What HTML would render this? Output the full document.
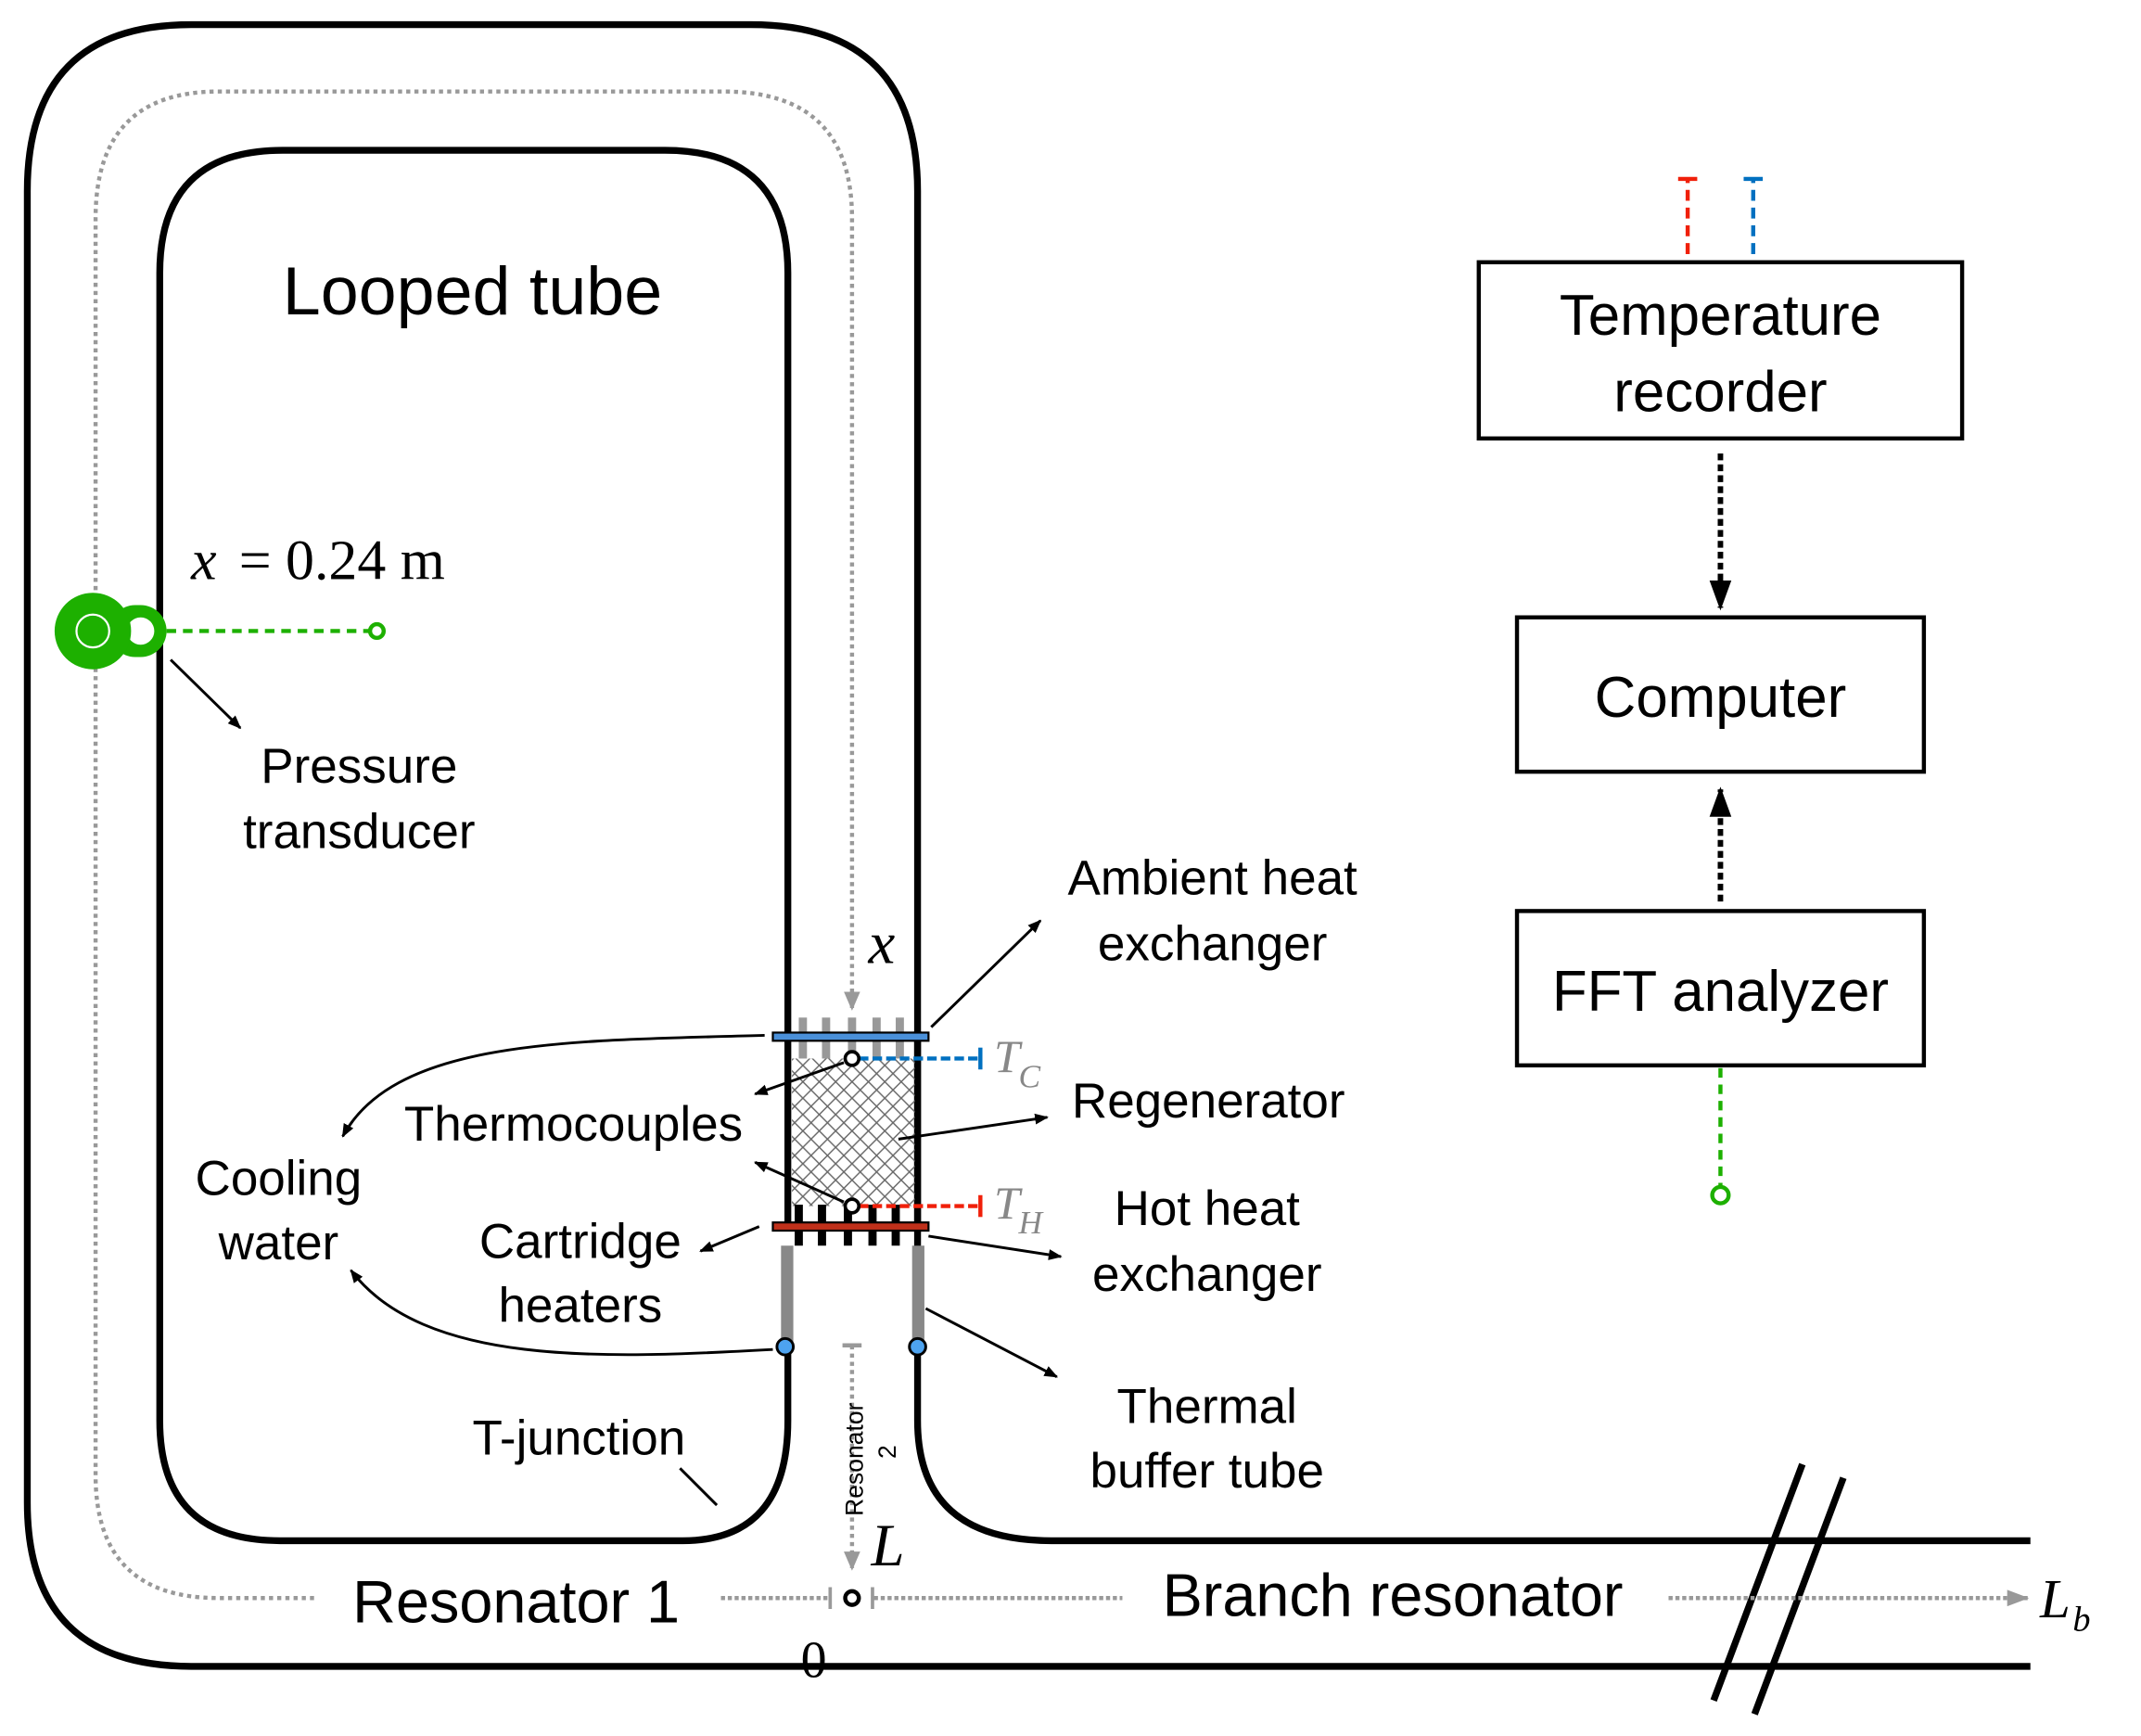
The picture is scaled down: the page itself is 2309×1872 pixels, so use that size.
<!DOCTYPE html>
<html><head><meta charset="utf-8"><style>
html,body{margin:0;padding:0;background:#fff}
svg{display:block}
text{font-family:"Liberation Sans",sans-serif;fill:#000}
.s{font-family:"Liberation Serif",serif;font-style:italic}
.r{font-family:"Liberation Serif",serif}
</style></head><body>
<svg width="2309" height="1872" viewBox="0 0 1568 1271" preserveAspectRatio="none" xmlns="http://www.w3.org/2000/svg">
<defs>
<marker id="a" markerWidth="10" markerHeight="10" refX="9" refY="5" orient="auto" markerUnits="userSpaceOnUse"><path d="M0,1 L10,5 L0,9 z" fill="#000"/></marker>
<marker id="g" markerWidth="14" markerHeight="14" refX="12" refY="7" orient="auto" markerUnits="userSpaceOnUse"><path d="M0,1 L14,7 L0,13 z" fill="#999"/></marker>
<marker id="b" markerWidth="22" markerHeight="22" refX="20" refY="11" orient="auto" markerUnits="userSpaceOnUse"><path d="M0,3 L22,11 L0,19 z" fill="#000"/></marker>
<pattern id="h" width="12" height="12" patternUnits="userSpaceOnUse"><path d="M0,0 L12,12 M12,0 L0,12" stroke="#666" stroke-width="1"/></pattern>
</defs>
<path d="M672,985 L672,140 Q672,18 550,18 L140,18 Q20,18 20,140 L20,1100 Q20,1220 140,1220 L1487,1220" fill="none" stroke="#000" stroke-width="5"/>
<path d="M577,755 L577,200 Q577,110 487,110 L207,110 Q117,110 117,200 L117,1040 Q117,1128 205,1128 L500,1128 Q577,1128 577,1040 L577,985" fill="none" stroke="#000" stroke-width="5"/>
<path d="M672,985 L672,1040 Q672,1128 770,1128 L1487,1128" fill="none" stroke="#000" stroke-width="5"/>
<path d="M577,755 L577,900 M672,755 L672,900" stroke="#000" stroke-width="5"/>
<path d="M230,1170 L160,1170 Q70,1170 70,1080 L70,160 Q70,67 160,67 L530,67 Q624,67 624,160 L624,738" fill="none" stroke="#999" stroke-width="3" stroke-dasharray="3,3" marker-end="url(#g)"/>
<path d="M1255,1245 L1320,1072 M1285,1255 L1350,1082" stroke="#000" stroke-width="5"/>
<g fill="#999"><rect x="585" y="745" width="6" height="30"/><rect x="602" y="745" width="6" height="30"/><rect x="621" y="745" width="6" height="30"/><rect x="639" y="745" width="6" height="30"/><rect x="656" y="745" width="6" height="30"/></g>
<rect x="580" y="775" width="90" height="108" fill="url(#h)"/>
<rect x="566" y="756" width="114" height="6" fill="#4a90d9" stroke="#000" stroke-width="1.5"/>
<g fill="#000"><rect x="582" y="882" width="6" height="30"/><rect x="599" y="882" width="6" height="30"/><rect x="618" y="882" width="6" height="30"/><rect x="636" y="882" width="6" height="30"/><rect x="653" y="882" width="6" height="30"/></g>
<rect x="566" y="895" width="114" height="6" fill="#c0301a" stroke="#000" stroke-width="1.5"/>
<rect x="572" y="912" width="9" height="74" fill="#888"/><rect x="668" y="912" width="9" height="74" fill="#888"/>
<circle cx="575" cy="986" r="6" fill="#4da3f0" stroke="#000" stroke-width="2"/>
<circle cx="672" cy="986" r="6" fill="#4da3f0" stroke="#000" stroke-width="2"/>
<path d="M629,775 L718,775" stroke="#0070c0" stroke-width="3" stroke-dasharray="7,3"/><path d="M718,767 V783" stroke="#0070c0" stroke-width="3"/>
<path d="M629,883 L718,883" stroke="#f0200a" stroke-width="3" stroke-dasharray="7,3"/><path d="M718,875 V891" stroke="#f0200a" stroke-width="3"/>
<circle cx="624" cy="775" r="5" fill="#fff" stroke="#000" stroke-width="2.5"/>
<circle cx="624" cy="883" r="5" fill="#fff" stroke="#000" stroke-width="2.5"/>
<rect x="80" y="443" width="42" height="38" rx="19" fill="#1db000"/>
<rect x="93" y="452" width="20" height="20" rx="10" fill="#fff"/>
<circle cx="68" cy="462" r="28" fill="#1db000"/>
<circle cx="68" cy="462" r="12" fill="none" stroke="#fff" stroke-width="1.5"/>
<path d="M122,462 L270,462" stroke="#1db000" stroke-width="3" stroke-dasharray="7,5"/>
<circle cx="276" cy="462" r="5" fill="#fff" stroke="#1db000" stroke-width="3"/>
<path d="M125,483 L176,533" stroke="#000" stroke-width="2" marker-end="url(#a)"/>
<path d="M682,752 L762,674" stroke="#000" stroke-width="2" marker-end="url(#a)"/>
<path d="M658,834 L767,818" stroke="#000" stroke-width="2" marker-end="url(#a)"/>
<path d="M680,905 L777,920" stroke="#000" stroke-width="2" marker-end="url(#a)"/>
<path d="M678,958 L774,1008" stroke="#000" stroke-width="2" marker-end="url(#a)"/>
<path d="M618,778 L553,801" stroke="#000" stroke-width="2" marker-end="url(#a)"/>
<path d="M618,880 L553,851" stroke="#000" stroke-width="2" marker-end="url(#a)"/>
<path d="M556,898 L513,916" stroke="#000" stroke-width="2" marker-end="url(#a)"/>
<path d="M560,758 C420,762 290,760 251,832" fill="none" stroke="#000" stroke-width="2" marker-end="url(#a)"/>
<path d="M566,988 C440,995 310,1000 257,930" fill="none" stroke="#000" stroke-width="2" marker-end="url(#a)"/>
<path d="M498,1075 L525,1102" stroke="#000" stroke-width="2"/>
<path d="M624,985 L624,1148" stroke="#999" stroke-width="3" stroke-dasharray="3,3" marker-end="url(#g)"/>
<path d="M617,985 H631" stroke="#999" stroke-width="3"/>
<path d="M528,1170 L606,1170 M640,1170 L822,1170 M1222,1170 L1486,1170" stroke="#999" stroke-width="3" stroke-dasharray="3,2"/>
<path d="M1470,1164 L1486,1170 L1470,1176 z" fill="#999"/>
<path d="M608,1162 V1178 M639,1162 V1178" stroke="#999" stroke-width="2.5"/>
<circle cx="624" cy="1170" r="5" fill="#fff" stroke="#000" stroke-width="3"/>
<text transform="translate(632,1110) rotate(-90)" font-size="18">Resonator</text>
<text transform="translate(656,1068) rotate(-90)" font-size="18">2</text>
<rect x="1083" y="192" width="354" height="129" fill="#fff" stroke="#000" stroke-width="3"/>
<rect x="1111" y="452" width="298" height="113" fill="#fff" stroke="#000" stroke-width="3"/>
<rect x="1111" y="667" width="298" height="113" fill="#fff" stroke="#000" stroke-width="3"/>
<path d="M1236,186 V132" stroke="#f0200a" stroke-width="3" stroke-dasharray="8,5"/>
<path d="M1284,186 V132" stroke="#0070c0" stroke-width="3" stroke-dasharray="8,5"/>
<path d="M1229,131 H1243" stroke="#f0200a" stroke-width="3"/>
<path d="M1277,131 H1291" stroke="#0070c0" stroke-width="3"/>
<path d="M1260,332 L1260,445" stroke="#000" stroke-width="4" stroke-dasharray="5,3" marker-end="url(#b)"/>
<path d="M1260,660 L1260,578" stroke="#000" stroke-width="4" stroke-dasharray="5,3" marker-end="url(#b)"/>
<path d="M1260,782 L1260,868" stroke="#1db000" stroke-width="3" stroke-dasharray="7,5"/>
<circle cx="1260" cy="875" r="6" fill="#fff" stroke="#1db000" stroke-width="3"/>
<text x="346" y="230" font-size="50" text-anchor="middle">Looped tube</text>
<text x="140" y="424" font-size="42" class="s">x</text>
<text x="175" y="424" font-size="42" class="r">= 0.24 m</text>
<text x="263" y="573" font-size="36" text-anchor="middle">Pressure</text>
<text x="263" y="621" font-size="36" text-anchor="middle">transducer</text>
<text x="888" y="655" font-size="36" text-anchor="middle">Ambient heat</text>
<text x="888" y="703" font-size="36" text-anchor="middle">exchanger</text>
<text x="636" y="705" font-size="44" class="s">x</text>
<text x="420" y="835" font-size="36" text-anchor="middle">Thermocouples</text>
<text x="885" y="818" font-size="36" text-anchor="middle">Regenerator</text>
<text x="204" y="875" font-size="36" text-anchor="middle">Cooling</text>
<text x="204" y="922" font-size="36" text-anchor="middle">water</text>
<text x="425" y="921" font-size="36" text-anchor="middle">Cartridge</text>
<text x="425" y="968" font-size="36" text-anchor="middle">heaters</text>
<text x="884" y="897" font-size="36" text-anchor="middle">Hot heat</text>
<text x="884" y="945" font-size="36" text-anchor="middle">exchanger</text>
<text x="884" y="1042" font-size="36" text-anchor="middle">Thermal</text>
<text x="884" y="1089" font-size="36" text-anchor="middle">buffer tube</text>
<text x="424" y="1065" font-size="36" text-anchor="middle">T-junction</text>
<text x="728" y="785" font-size="34" class="s" style="fill:#888">T</text><text x="746" y="796" font-size="24" class="s" style="fill:#888">C</text>
<text x="728" y="892" font-size="34" class="s" style="fill:#888">T</text><text x="746" y="903" font-size="24" class="s" style="fill:#888">H</text>
<text x="378" y="1188" font-size="44" text-anchor="middle">Resonator 1</text>
<text x="1020" y="1183" font-size="44" text-anchor="middle">Branch resonator</text>
<text x="638" y="1146" font-size="44" class="s">L</text>
<text x="1494" y="1184" font-size="40" class="s">L</text><text x="1518" y="1194" font-size="26" class="s">b</text>
<text x="596" y="1228" font-size="38" text-anchor="middle" class="r">0</text>
<text x="1260" y="245" font-size="42" text-anchor="middle">Temperature</text>
<text x="1260" y="301" font-size="42" text-anchor="middle">recorder</text>
<text x="1260" y="525" font-size="42" text-anchor="middle">Computer</text>
<text x="1260" y="740" font-size="42" text-anchor="middle">FFT analyzer</text>
</svg>
</body></html>
